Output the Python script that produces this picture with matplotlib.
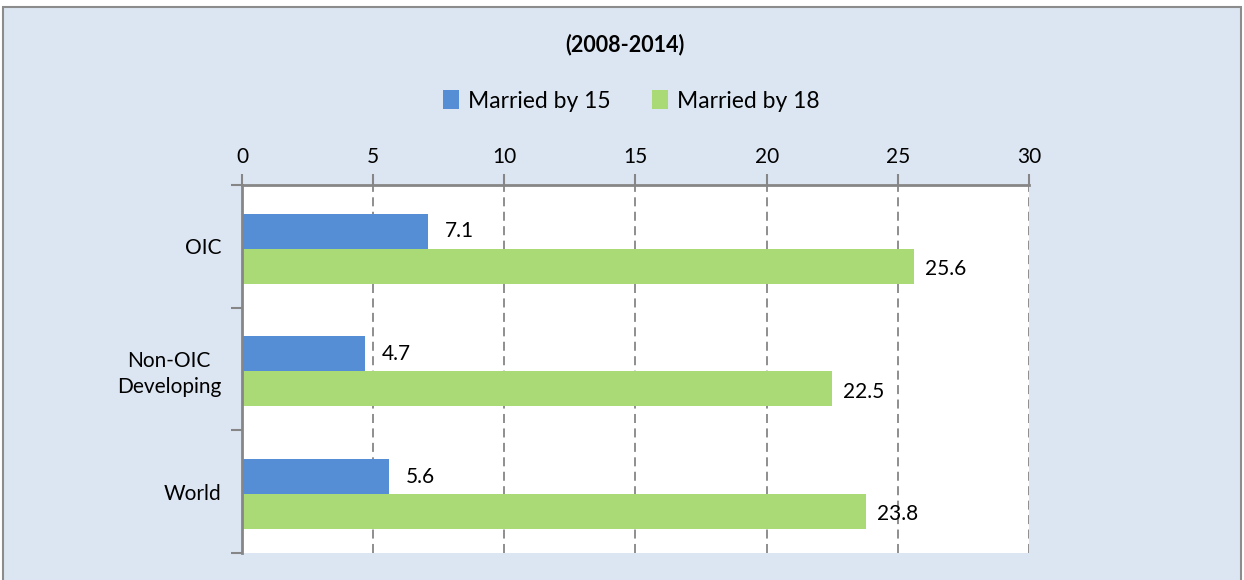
import numpy as np
import matplotlib.pyplot as plt
from matplotlib.patches import Rectangle

categories = ["OIC", "Non-OIC\nDeveloping", "World"]
married_15 = [7.1, 4.7, 5.6]
married_18 = [25.6, 22.5, 23.8]
x_ticks = [0, 5, 10, 15, 20, 25, 30]

plt.rcParams['font.family'] = ['Lato', 'DejaVu Sans']

fig = plt.figure(figsize=(12.44, 5.8), dpi=100, facecolor='white')
fig.patches.append(Rectangle((3 / 1244, -0.05), 1238 / 1244, 1.05 - 7 / 580,
                             transform=fig.transFigure, facecolor='#DCE6F2',
                             edgecolor='#8C8C8C', linewidth=1.5, zorder=-1))

ax = fig.add_axes([242 / 1244, 27 / 580, 787 / 1244, 368 / 580])
ax.set_facecolor('white')

y = np.arange(len(categories))
h = 0.285
off = 0.02
ax.barh(y - h / 2 + off, married_15, height=h, color='#558ED5', label='Married by 15', zorder=2)
ax.barh(y + h / 2 + off, married_18, height=h, color='#AADA76', label='Married by 18', zorder=2)

for yi, v in zip(y, married_15):
    ax.annotate(f"{v}", (v, yi - h / 2 + off), xytext=(12, 0), textcoords='offset points',
                va='center', ha='left', fontsize=15)
for yi, v in zip(y, married_18):
    ax.annotate(f"{v}", (v, yi + h / 2 + off), xytext=(8, -2), textcoords='offset points',
                va='center', ha='left', fontsize=15)

ax.set_xlim(0, 30)
ax.set_ylim(2.5, -0.5)
ax.xaxis.tick_top()
ax.set_xticks(x_ticks)
ax.tick_params(axis='x', direction='out', length=8, width=1.5, color='#868686',
               labelsize=15, pad=5)
ax.set_yticks(y)
ax.set_yticklabels(categories, multialignment='center', linespacing=1.35)
ax.set_yticks([-0.5, 0.5, 1.5, 2.5], minor=True)
ax.tick_params(axis='y', which='major', length=0, labelsize=15, pad=15)
ax.tick_params(axis='y', which='minor', direction='out', length=8, width=1.5, color='#868686')

ax.grid(axis='x', color='#868686', linestyle=(0, (5, 3)), linewidth=1.3, zorder=1)
for s in ['right', 'bottom']:
    ax.spines[s].set_visible(False)
for s in ['top', 'left']:
    ax.spines[s].set_color('#868686')
    ax.spines[s].set_linewidth(2)

fig.text(625 / 1244, 1 - 45 / 580, "(2008-2014)", ha='center', va='center',
         fontsize=15.5, fontweight='bold')
fig.legend(loc='center', bbox_to_anchor=(631 / 1244, 1 - 101 / 580), ncol=2,
           frameon=False, fontsize=16.5, handlelength=0.7, handleheight=0.9,
           handletextpad=0.4, columnspacing=1.8)

fig.savefig('out.png', dpi=100, facecolor=fig.get_facecolor())
